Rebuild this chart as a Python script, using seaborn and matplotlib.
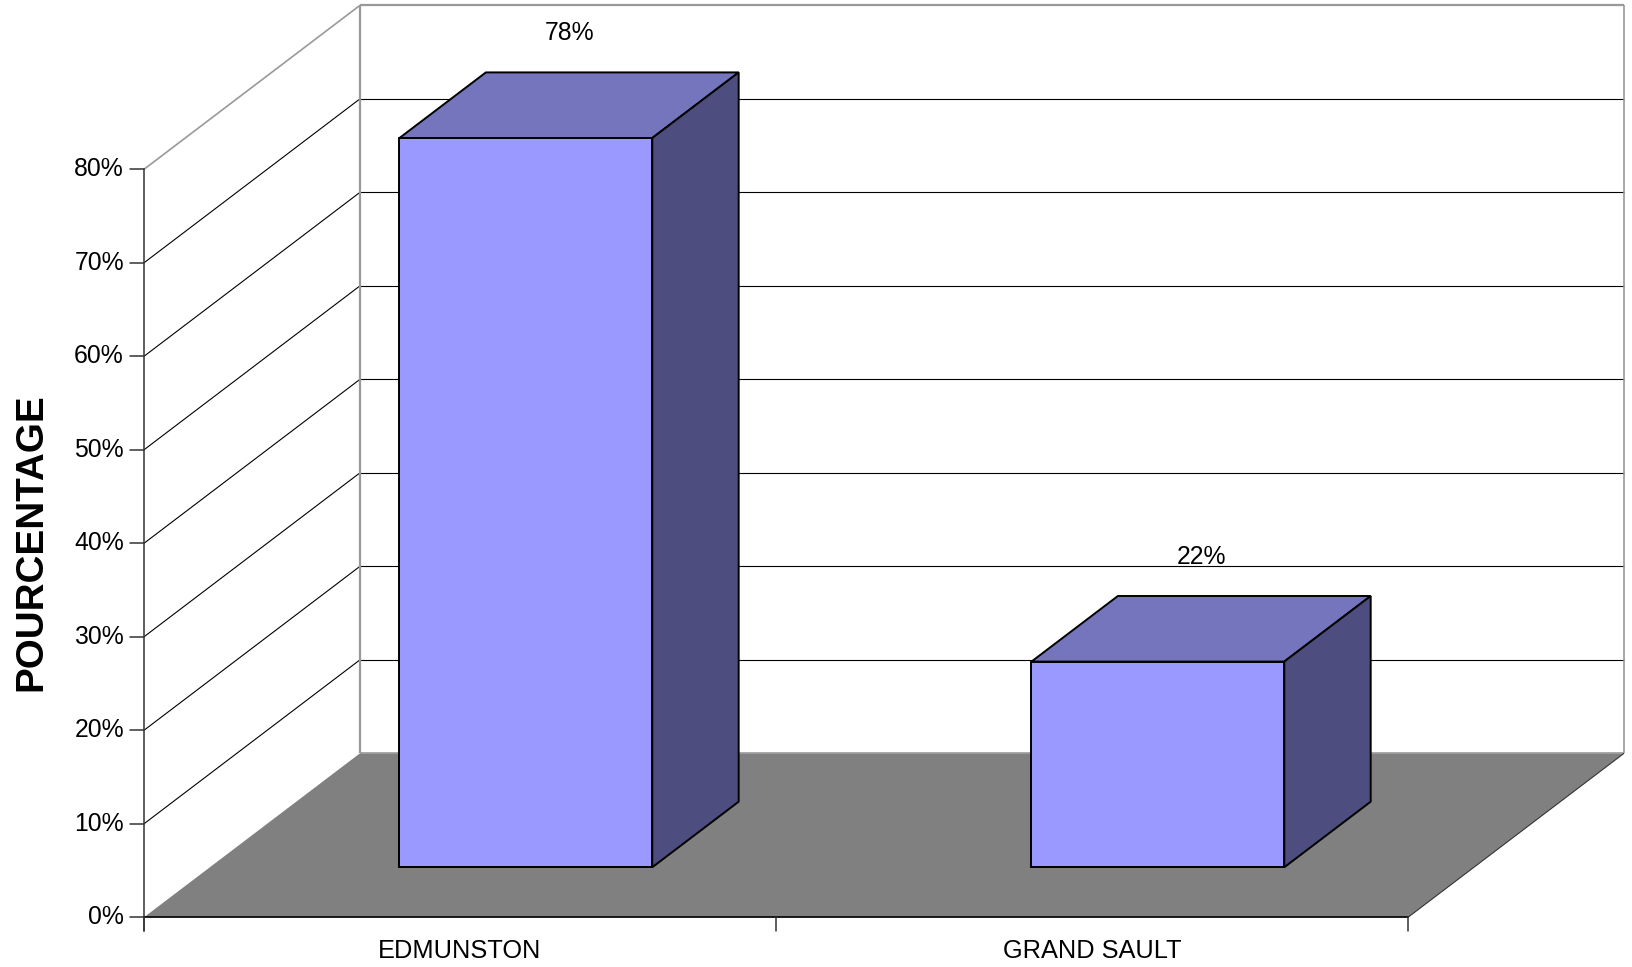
import matplotlib
matplotlib.use("Agg")
import matplotlib.pyplot as plt
from matplotlib.patches import Polygon
import seaborn as sns
import pandas as pd

# Data
categories = ["EDMUNSTON", "GRAND SAULT"]
percentages = [78, 22]
value_labels = ["78%", "22%"]
y_ticks = [0, 10, 20, 30, 40, 50, 60, 70, 80]
y_tick_labels = ["0%", "10%", "20%", "30%", "40%", "50%", "60%", "70%", "80%"]
y_title = "POURCENTAGE"

sns.set_theme(style="white")
plt.rcParams["font.family"] = ["Liberation Sans", "DejaVu Sans"]

FRONT = "#9999FF"
TOP = "#7575BD"
SIDE = "#4D4D7F"
FLOOR = "#808080"
EDGE_GRAY = "#999999"

fig = plt.figure(figsize=(16.32, 9.67), dpi=100)
ax = fig.add_axes([0, 0, 1, 1])

# oblique projection for the pseudo-3D box
DX = 216 / 632      # depth shift in category units
DY = 164 / 9.35     # depth shift in percent units
Z0, Z1 = 0.305, 0.705   # depth span of each bar
BAR_W = 0.4
X_LO, X_HI = -0.5, len(categories) - 0.5
Y_TOP = y_ticks[-1]


def proj(x, y, z):
    return (x + z * DX, y + z * DY)


def line3(p, q, **kw):
    a, b = proj(*p), proj(*q)
    ax.plot([a[0], b[0]], [a[1], b[1]], solid_capstyle="butt", **kw)


# walls and floor
ax.add_patch(Polygon([proj(X_LO, 0, 0), proj(X_HI, 0, 0), proj(X_HI, 0, 1), proj(X_LO, 0, 1)],
                     closed=True, facecolor=FLOOR, edgecolor="none", zorder=1))
for t in y_ticks[1:-1]:
    line3((X_LO, t, 1), (X_HI, t, 1), color="black", lw=0.8, zorder=2)
    line3((X_LO, t, 0), (X_LO, t, 1), color="black", lw=0.8, zorder=2)
# wall borders
line3((X_LO, 0, 1), (X_LO, Y_TOP, 1), color=EDGE_GRAY, lw=1.6, zorder=2)
line3((X_HI, 0, 1), (X_HI, Y_TOP, 1), color=EDGE_GRAY, lw=1.2, zorder=2)
line3((X_LO, Y_TOP, 1), (X_HI, Y_TOP, 1), color=EDGE_GRAY, lw=1.6, zorder=2)
line3((X_LO, Y_TOP, 0), (X_LO, Y_TOP, 1), color=EDGE_GRAY, lw=1.2, zorder=2)
line3((X_LO, 0, 1), (X_HI, 0, 1), color=EDGE_GRAY, lw=1.2, zorder=2)
line3((X_HI, 0, 0), (X_HI, 0, 1), color="#333333", lw=0.8, zorder=2)

# front faces of the bars
df = pd.DataFrame({"cat": categories, "pct": percentages})
sns.barplot(data=df, x="cat", y="pct", width=BAR_W, color=FRONT, saturation=1,
            edgecolor="black", linewidth=1.4, ax=ax)
for patch in ax.patches:
    if isinstance(patch, Polygon):
        continue
    patch.set_x(patch.get_x() + Z0 * DX)
    patch.set_y(patch.get_y() + Z0 * DY)
    patch.set_facecolor(FRONT)
    patch.set_zorder(5)

# top and side faces
for i, v in enumerate(percentages):
    x0, x1 = i - BAR_W / 2, i + BAR_W / 2
    ax.add_patch(Polygon([proj(x0, v, Z0), proj(x1, v, Z0), proj(x1, v, Z1), proj(x0, v, Z1)],
                         closed=True, facecolor=TOP, edgecolor="black", lw=1.4, zorder=4))
    ax.add_patch(Polygon([proj(x1, 0, Z0), proj(x1, 0, Z1), proj(x1, v, Z1), proj(x1, v, Z0)],
                         closed=True, facecolor=SIDE, edgecolor="black", lw=1.4, zorder=4))
    lx, ly = proj(i, v, (Z0 + Z1) / 2)
    ax.annotate(value_labels[i], (lx, ly), xytext=(0, 52), textcoords="offset points",
                ha="center", va="center", fontsize=17.8, color="black", zorder=6)

# axes lines and ticks
tick_dx = 14 / 632
tick_dy = 14 / 9.35
ax.plot([X_LO, X_LO], [-tick_dy, Y_TOP], color="#333333", lw=1.1, zorder=3)
ax.plot([X_LO, X_HI], [0, 0], color="black", lw=1.2, zorder=3)
for t, lab in zip(y_ticks, y_tick_labels):
    ax.plot([X_LO - tick_dx, X_LO], [t, t], color="#333333", lw=1.1, zorder=3)
    ax.text(X_LO - 20 / 632, t, lab, ha="right", va="center", fontsize=17.8, color="black")
for k in range(len(categories) + 1):
    xk = X_LO + k
    ax.plot([xk, xk], [-tick_dy, 0], color="#333333", lw=1.1, zorder=3)
for i, c in enumerate(categories):
    ax.text(i, -3.6, c, ha="center", va="center", fontsize=18.3, color="black")

ax.text(X_LO - 113 / 632, 40.1, y_title, rotation=90, ha="center", va="center",
        fontsize=27.8, fontweight="bold", color="black")

ax.set_xlim(-0.7278, 1.8544)
ax.set_ylim(-5.316, 98.11)
ax.axis("off")

fig.savefig("out.png", dpi=100)
